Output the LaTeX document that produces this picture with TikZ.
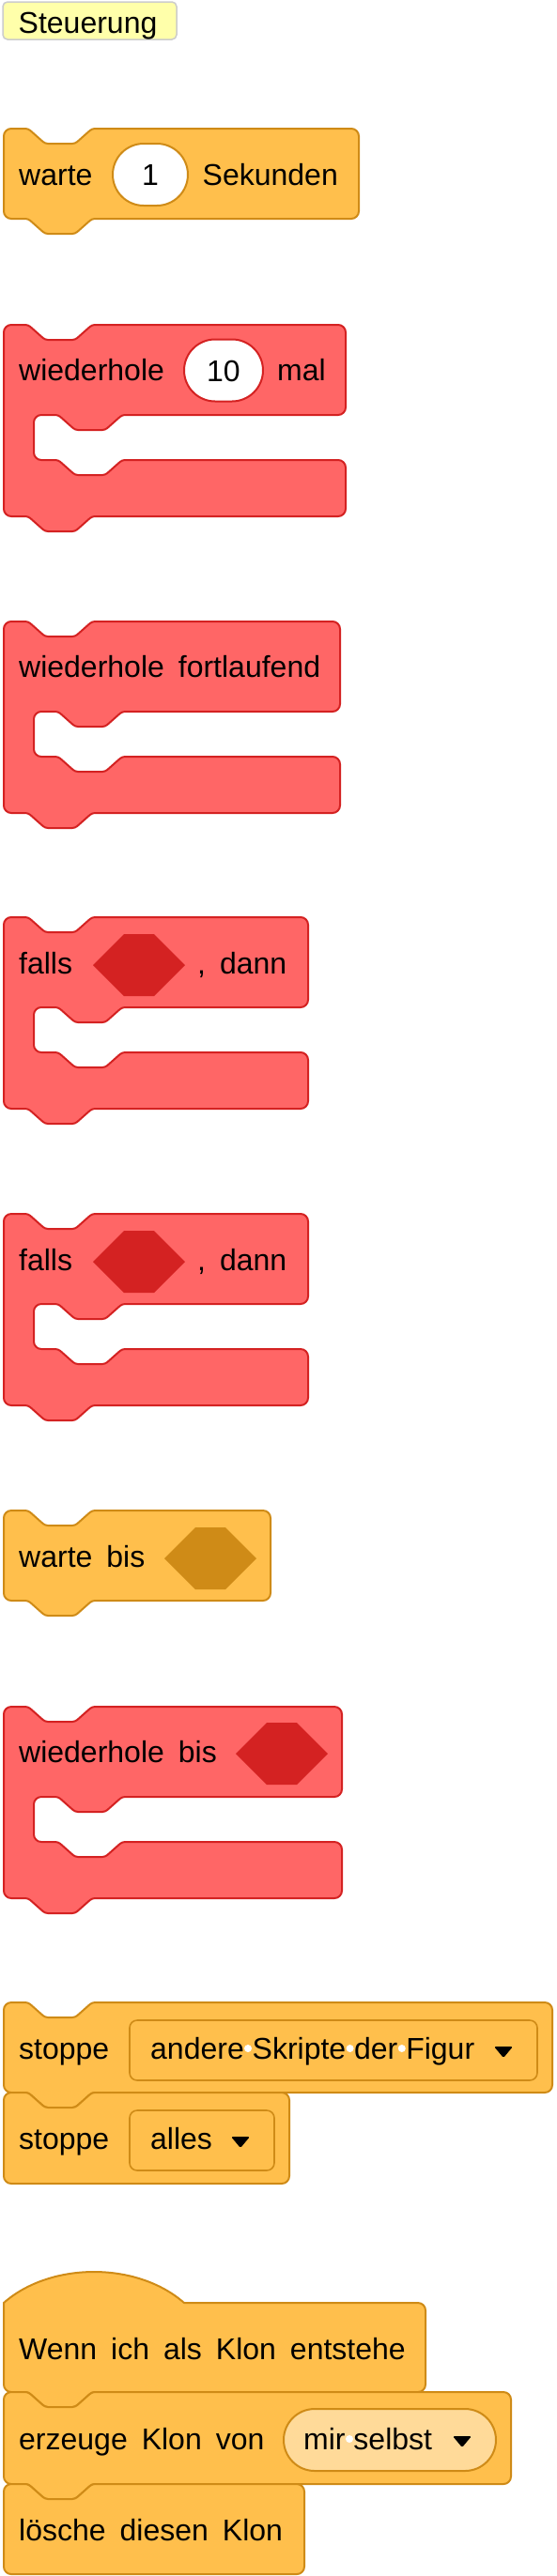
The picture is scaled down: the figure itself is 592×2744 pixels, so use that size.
\documentclass[tikz,border=0pt]{standalone}
\usepackage{fontspec}
\setmainfont{Liberation Sans}
\usetikzlibrary{shapes.misc}

\definecolor{ctrlfill}{HTML}{FFBF4C}
\definecolor{ctrlline}{HTML}{CF8B17}
\definecolor{loopfill}{HTML}{FF6666}
\definecolor{loopline}{HTML}{D42222}
\definecolor{pillfill}{HTML}{FFDA99}
\definecolor{tagfill}{HTML}{FFFFAA}

% notch in a top edge (left to right), tab in a bottom edge (right to left)
\newcommand{\notchR}[2]{[rounded corners=3pt] -- (#1+26,#2) -- (#1+44,#2+16) -- (#1+76,#2+16) -- (#1+94,#2) [rounded corners=8pt]}
\newcommand{\notchL}[2]{[rounded corners=3pt] -- (#1+94,#2) -- (#1+76,#2+16) -- (#1+44,#2+16) -- (#1+26,#2) [rounded corners=8pt]}
% stack block: style, top, bottom, right
\newcommand{\sblock}[4]{\draw[#1] (4,#2+40) -- (4,#2) \notchR{4}{#2} -- (#4,#2) -- (#4,#3) \notchL{4}{#3} -- (4,#3) -- cycle;}
% cap block, flat bottom
\newcommand{\capblock}[4]{\draw[#1] (4,#2+40) -- (4,#2) \notchR{4}{#2} -- (#4,#2) -- (#4,#3) -- (4,#3) -- cycle;}
% c block: style, top, right
\newcommand{\cblock}[3]{\draw[#1] (4,#2+40) -- (4,#2) \notchR{4}{#2} -- (#3,#2) -- (#3,#2+96)
  \notchL{36}{#2+96} -- (36,#2+96) -- (36,#2+144) \notchR{36}{#2+144} -- (#3,#2+144) -- (#3,#2+204)
  \notchL{4}{#2+204} -- (4,#2+204) -- cycle;}
% empty boolean slot: colour, left, top
\newcommand{\hexslot}[3]{\fill[#1] (#2,#3+33) -- (#2+33,#3) -- (#2+65,#3) -- (#2+98,#3+33) -- (#2+65,#3+66) -- (#2+33,#3+66) -- cycle;}
% dropdown arrow: left, top
\newcommand{\ddarrow}[2]{\fill[rounded corners=1.5pt] (#1,#2) -- (#1+20,#2) -- (#1+10,#2+12) -- cycle;}

\begin{document}
\begin{tikzpicture}[x=1pt, y=-1pt,
    every node/.style={font=\fontsize{32}{38}\selectfont, inner sep=0pt},
    lbl/.style={anchor=base west, font={\fontsize{32}{38}\selectfont\spaceskip=15pt\relax}},
    field/.style={anchor=base west},
    ctrlblk/.style={fill=ctrlfill, draw=ctrlline, line width=2pt, rounded corners=8pt, line join=round},
    loopblk/.style={fill=loopfill, draw=loopline, line width=2pt, rounded corners=8pt, line join=round},
    oval/.style={rounded rectangle, fill=white, line width=2pt, minimum height=66pt, text height=23pt, text depth=0pt},
    ddbox/.style={fill=ctrlfill, draw=ctrlline, line width=1.6pt, rounded corners=8pt}]
  \useasboundingbox (0,0) rectangle (592,2744);
  % category tag
  \draw[fill=tagfill, draw=black!20, line width=1.5pt, rounded corners=5pt] (3,2) rectangle (188,42);
  \node[lbl] (tag) at (19.5,35) {Steuerung};
  % warte 1 Sekunden
  \sblock{ctrlblk}{137}{233}{382}
  \node[lbl] (wait) at (20,197) {warte};
  \node[oval, draw=ctrlline, minimum width=80pt] (secs) at (160,186) {1};
  \node[lbl] (secunit) at (215.5,197) {Sekunden};
  % wiederhole 10 mal
  \cblock{loopblk}{346}{368}
  \node[lbl] (rep) at (20,405) {wiederhole};
  \node[oval, draw=loopline, minimum width=84pt] (times) at (238,394.5) {10};
  \node[lbl] (mal) at (295,405) {mal};
  % wiederhole fortlaufend
  \cblock{loopblk}{662}{362}
  \node[lbl] (forever) at (20,721) {wiederhole fortlaufend};
  % falls, dann
  \cblock{loopblk}{977}{328}
  \hexslot{loopline}{99}{995}
  \node[lbl] (ifa) at (20,1037) {falls};
  \node[lbl] (thena) at (210,1037) {, dann};
  % falls, dann
  \cblock{loopblk}{1293}{328}
  \hexslot{loopline}{99}{1311}
  \node[lbl] (ifb) at (20,1353) {falls};
  \node[lbl] (thenb) at (210,1353) {, dann};
  % warte bis
  \sblock{ctrlblk}{1609}{1705}{288}
  \hexslot{ctrlline}{175}{1627}
  \node[lbl] (waituntil) at (20,1669) {warte bis};
  % wiederhole bis
  \cblock{loopblk}{1818}{364}
  \hexslot{loopline}{251}{1835}
  \node[lbl] (repuntil) at (20,1877) {wiederhole bis};
  % stoppe andere Skripte der Figur
  \sblock{ctrlblk}{2133}{2229}{588}
  \draw[ddbox] (138,2152) rectangle (572,2216);
  \node[lbl] (stopa) at (20,2193) {stoppe};
  \node[field] (others) at (160,2193) {andere Skripte der Figur};
  \foreach \x in {264,372.6,427.8}
    \fill[white] (\x,2182) circle (4pt);
  \ddarrow{526}{2180}
  % stoppe alles
  \capblock{ctrlblk}{2229}{2326}{308}
  \draw[ddbox] (138,2248) rectangle (292,2312);
  \node[lbl] (stopb) at (20,2289) {stoppe};
  \node[field] (all) at (160,2289) {alles};
  \ddarrow{246}{2276}
  % Wenn ich als Klon entstehe
  \draw[ctrlblk, sharp corners] (4,2500) -- (4,2453) .. controls (54,2409) and (146,2409) .. (196,2453)
    [rounded corners=8pt] -- (453,2453) -- (453,2548) \notchL{4}{2548} -- (4,2548) -- cycle;
  \node[lbl] (hat) at (20,2513) {Wenn ich als Klon entstehe};
  % erzeuge Klon von
  \sblock{ctrlblk}{2548}{2646}{544}
  \node[rounded rectangle, fill=pillfill, draw=ctrlline, line width=2pt, minimum width=226pt, minimum height=66pt] (pill) at (415,2599) {};
  \node[lbl] (clone) at (20,2609) {erzeuge Klon von};
  \node[field] (myself) at (323,2609) {mir selbst};
  \fill[white] (372,2598) circle (4pt);
  \ddarrow{482}{2595}
  % lösche diesen Klon
  \capblock{ctrlblk}{2646}{2742}{324}
  \node[lbl] (delclone) at (20,2706) {lösche diesen Klon};
\end{tikzpicture}
\end{document}
